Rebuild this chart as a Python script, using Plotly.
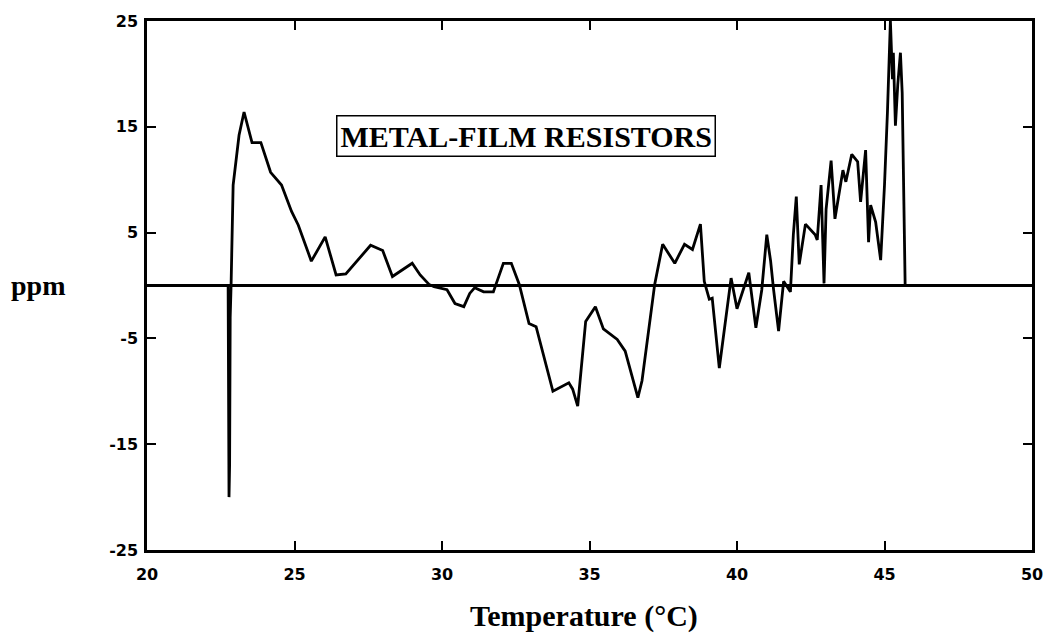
import plotly.graph_objects as go

# Resistance deviation of metal-film resistors versus temperature
temperature_c = [
    22.75, 22.78, 22.80, 22.82, 22.85, 22.92, 23.12, 23.29, 23.56, 23.86,
    24.19, 24.56, 24.90, 25.13, 25.57, 26.04, 26.41, 26.74, 27.58, 27.99,
    28.32, 28.99, 29.26, 29.56, 29.73, 30.17, 30.44, 30.74, 30.94, 31.11,
    31.41, 31.74, 32.08, 32.35, 32.62, 32.95, 33.19, 33.76, 34.30, 34.43,
    34.60, 34.87, 35.20, 35.47, 35.94, 36.21, 36.64, 36.78, 37.21, 37.48,
    37.89, 38.22, 38.49, 38.76, 38.89, 39.06, 39.16, 39.40, 39.56, 39.80,
    40.00, 40.23, 40.40, 40.64, 40.84, 41.01, 41.14, 41.24, 41.41, 41.58,
    41.81, 41.91, 42.01, 42.11, 42.32, 42.65, 42.72, 42.85, 42.95, 43.02,
    43.19, 43.32, 43.59, 43.69, 43.89, 44.09, 44.19, 44.36, 44.46, 44.53,
    44.70, 44.87, 45.00, 45.10, 45.20, 45.27, 45.30, 45.37, 45.45, 45.54,
    45.60, 45.70,
]
deviation_ppm = [
    0.0, -20.0, -17.0, -3.0, 0.0, 9.5, 14.2, 16.4, 13.5, 13.5,
    10.7, 9.5, 7.0, 5.7, 2.3, 4.6, 1.0, 1.1, 3.8, 3.3,
    0.85, 2.1, 1.0, 0.1, -0.1, -0.4, -1.7, -2.0, -0.75, -0.2,
    -0.6, -0.6, 2.1, 2.1, 0.1, -3.6, -3.9, -10.0, -9.2, -9.8,
    -11.4, -3.4, -2.0, -4.1, -5.1, -6.2, -10.6, -9.0, 0.1, 3.9,
    2.1, 3.9, 3.4, 5.8, 0.4, -1.3, -1.2, -7.8, -4.6, 0.7,
    -2.2, -0.3, 1.2, -4.0, -0.4, 4.8, 2.3, -0.4, -4.3, 0.4,
    -0.6, 4.8, 8.4, 2.0, 5.8, 4.8, 4.3, 9.5, 0.2, 7.2,
    11.8, 6.3, 10.9, 9.8, 12.4, 11.7, 7.9, 12.8, 4.1, 7.6,
    6.0, 2.4, 9.5, 16.4, 25.0, 19.5, 22.0, 15.1, 19.0, 22.0,
    18.2, 0.0,
]

x_ticks = [20, 25, 30, 35, 40, 45, 50]
x_tick_labels = ["20", "25", "30", "35", "40", "45", "50"]
y_ticks = [-25, -15, -5, 5, 15, 25]
y_tick_labels = ["-25", "-15", "-5", "5", "15", "25"]

serif = "Liberation Serif, Times New Roman, serif"
tick_font = dict(family="DejaVu Sans, sans-serif", size=16, color="black", weight="bold")

fig = go.Figure()
fig.add_trace(go.Scatter(
    x=temperature_c, y=deviation_ppm, mode="lines",
    line=dict(color="black", width=2.8),
    showlegend=False, hoverinfo="skip",
))

# Zero reference line across the full width of the plot
fig.add_shape(type="line", xref="paper", x0=0, x1=1, yref="y", y0=0, y1=0,
              line=dict(color="black", width=3.2))

axis_common = dict(
    showline=True, linecolor="black", linewidth=2.5, mirror="ticks",
    ticks="inside", ticklen=9, tickwidth=2, tickcolor="black",
    showgrid=False, zeroline=False, tickfont=tick_font,
)

fig.update_xaxes(range=[20, 50], tickmode="array", tickvals=x_ticks,
                 ticktext=x_tick_labels, ticklabelstandoff=8, **axis_common)
fig.update_yaxes(range=[-25, 25], tickmode="array", tickvals=y_ticks,
                 ticktext=y_tick_labels, ticklabelstandoff=3, **axis_common)

fig.add_annotation(
    x=32.85, y=14.1, xref="x", yref="y", showarrow=False,
    xanchor="center", yanchor="middle",
    text="METAL-FILM RESISTORS",
    font=dict(family=serif, size=30, color="black", weight="bold"),
    bordercolor="black", borderwidth=1.5, borderpad=3, bgcolor="white",
)
fig.add_annotation(
    x=-0.123, y=0, xref="paper", yref="y", showarrow=False,
    xanchor="center", yanchor="middle",
    text="ppm", font=dict(family=serif, size=28, color="black", weight="bold"),
)
fig.add_annotation(
    x=0.494, y=-0.124, xref="paper", yref="paper", showarrow=False,
    xanchor="center", yanchor="middle",
    text="Temperature (°C)",
    font=dict(family=serif, size=30, color="black", weight="bold"),
)

fig.update_layout(
    width=1055, height=636,
    margin=dict(l=147, r=13, t=17, b=86),
    paper_bgcolor="white", plot_bgcolor="white",
)

fig.write_html("out.html")
